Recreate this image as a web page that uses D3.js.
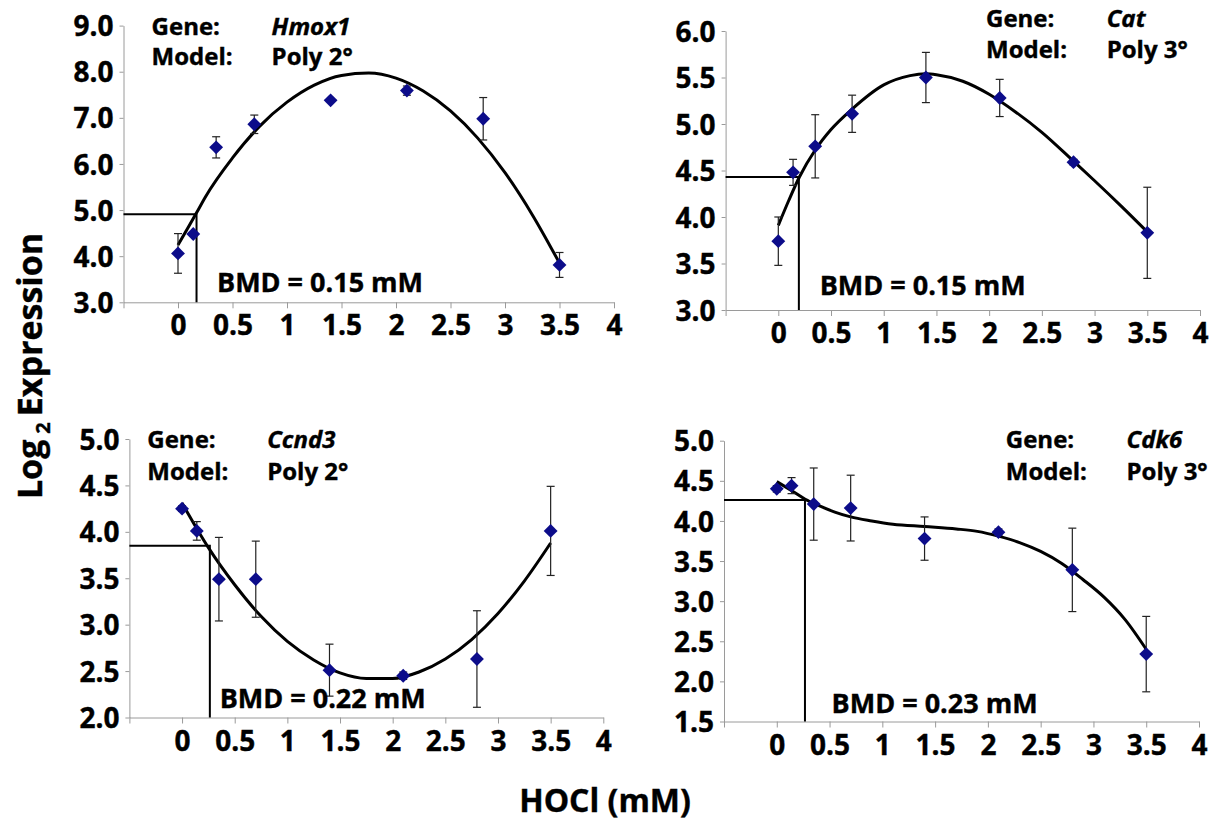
<!DOCTYPE html>
<html>
<head>
<meta charset="utf-8">
<script src="https://cdn.jsdelivr.net/npm/d3@7"></script>
<style>
  body { margin: 0; background: #fff; }
  svg text { font-family: "Open Sans", sans-serif; font-weight: 700; fill: #000; stroke: #000; stroke-width: 0.4px; }
</style>
</head>
<body>
<script>
// HOCl doses (mM) used for every gene
var doses = [0, 0.14, 0.35, 0.7, 1.4, 2.1, 2.8, 3.5];
var xTicks = [-0.5, 0, 0.5, 1, 1.5, 2, 2.5, 3, 3.5, 4];

var genes = ["Hmox1", "Cat", "Ccnd3", "Cdk6"];
var models = ["Poly 2°", "Poly 3°", "Poly 2°", "Poly 3°"];
var bmdLabels = ["0.15", "0.15", "0.22", "0.23"];

// measured log2 expression (mean and error)
var hmox1Mean = [4.06, 4.48, 6.36, 6.86, 7.38, 7.59, 6.98, 3.81];
var hmox1Err  = [0.43, 0.04, 0.23, 0.20, 0.03, 0.10, 0.46, 0.27];
var catMean   = [3.74, 4.48, 4.76, 5.11, 5.50, 5.28, 4.59, 3.83];
var catErr    = [0.26, 0.14, 0.34, 0.20, 0.27, 0.20, 0.03, 0.49];
var ccnd3Mean = [4.25, 4.01, 3.49, 3.49, 2.51, 2.45, 2.63, 4.01];
var ccnd3Err  = [0.03, 0.10, 0.45, 0.41, 0.28, 0.04, 0.52, 0.48];
var cdk6Mean  = [4.40, 4.44, 4.21, 4.16, 3.78, 3.86, 3.39, 2.34];
var cdk6Err   = [0.04, 0.10, 0.45, 0.41, 0.27, 0.04, 0.52, 0.47];

// fitted model curves
var hmox1FitX = [0, 0.17, 0.25, 0.5, 0.75, 1, 1.25, 1.5, 1.75, 2, 2.25, 2.5, 2.75, 3, 3.25, 3.5];
var hmox1FitY = [4.24, 4.94, 5.28, 6.13, 6.82, 7.34, 7.71, 7.92, 7.97, 7.86, 7.58, 7.15, 6.56, 5.81, 4.90, 3.85];
var catFitX = [0, 0.1, 0.2, 0.35, 0.5, 0.7, 1, 1.25, 1.4, 1.5, 1.75, 2, 2.25, 2.5, 2.8, 3, 3.25, 3.5];
var catFitY = [3.91, 4.18, 4.43, 4.72, 4.94, 5.16, 5.42, 5.52, 5.54, 5.53, 5.46, 5.32, 5.13, 4.91, 4.60, 4.39, 4.12, 3.84];
var ccnd3FitX = [0, 0.25, 0.5, 0.75, 1, 1.25, 1.5, 1.75, 2, 2.25, 2.5, 2.75, 3, 3.25, 3.5];
var ccnd3FitY = [4.31, 3.83, 3.43, 3.09, 2.82, 2.62, 2.48, 2.42, 2.42, 2.49, 2.63, 2.84, 3.12, 3.47, 3.88];
var cdk6FitX = [0, 0.15, 0.27, 0.4, 0.55, 0.7, 0.9, 1.1, 1.4, 1.7, 1.9, 2.1, 2.3, 2.5, 2.7, 2.9, 3.1, 3.3, 3.5];
var cdk6FitY = [4.49, 4.37, 4.27, 4.19, 4.11, 4.05, 4.00, 3.96, 3.93, 3.90, 3.87, 3.81, 3.73, 3.62, 3.47, 3.27, 3.05, 2.77, 2.40];

// benchmark dose guide lines (x, response)
var bmdX = [0.17, 0.195, 0.264, 0.267];
var bmdY = [4.91, 4.43, 3.85, 4.26];

// y ticks per panel
var hmox1Ticks = [3, 4, 5, 6, 7, 8, 9];
var catTicks   = [3, 3.5, 4, 4.5, 5, 5.5, 6];
var ccnd3Ticks = [2, 2.5, 3, 3.5, 4, 4.5, 5];
var cdk6Ticks  = [1.5, 2, 2.5, 3, 3.5, 4, 4.5, 5];

var means = [hmox1Mean, catMean, ccnd3Mean, cdk6Mean];
var errs = [hmox1Err, catErr, ccnd3Err, cdk6Err];
var fitX = [hmox1FitX, catFitX, ccnd3FitX, cdk6FitX];
var fitY = [hmox1FitY, catFitY, ccnd3FitY, cdk6FitY];
var yTicks = [hmox1Ticks, catTicks, ccnd3Ticks, cdk6Ticks];

// panel placement on the page
var layout = [
  {left: 123.5, right: 614, top: 25.6, bottom: 302.3, gx: 151.6, gy: 35, vx: 271.6, gap: 30, bx: 217, by: 291.7},
  {left: 725.6, right: 1200, top: 31, bottom: 310, gx: 986, gy: 26.7, vx: 1106.7, gap: 31.6, bx: 819.7, by: 295},
  {left: 129.4, right: 603.3, top: 439, bottom: 717.5, gx: 147.3, gy: 448.3, vx: 267.2, gap: 31.7, bx: 219.7, by: 708.3},
  {left: 724, right: 1199, top: 440.7, bottom: 721.5, gx: 1005.8, gy: 448.3, vx: 1126.5, gap: 31.7, bx: 831.6, by: 713.3}
];

var svg = d3.select("body").append("svg")
  .attr("width", 1214)
  .attr("height", 823);

var axisColor = "#9a9a9a";
var pointColor = "#0c0c8a";

layout.forEach(function(L, i) {
  var x = d3.scaleLinear().domain([-0.5, 4]).range([L.left, L.right]);
  var yt = yTicks[i];
  var y = d3.scaleLinear().domain([yt[0], yt[yt.length - 1]]).range([L.bottom, L.top]);

  var g = svg.append("g").attr("class", "panel");

  // x axis
  var xa = g.append("g")
    .attr("transform", "translate(0," + L.bottom + ")")
    .call(d3.axisBottom(x).tickValues(xTicks).tickSize(6).tickSizeOuter(0)
      .tickFormat(function(d) { return d < 0 ? "" : d3.format("")(d); }));
  xa.select(".domain").attr("stroke", axisColor);
  xa.selectAll(".tick line").attr("stroke", axisColor);
  xa.selectAll(".tick text").attr("y", 33).attr("dy", null)
    .style("font-size", "28px");

  // y axis
  var ya = g.append("g")
    .attr("transform", "translate(" + L.left + ",0)")
    .call(d3.axisLeft(y).tickValues(yt).tickSize(4).tickSizeOuter(0).tickPadding(6)
      .tickFormat(d3.format(".1f")));
  ya.select(".domain").attr("stroke", axisColor);
  ya.selectAll(".tick line").attr("stroke", axisColor);
  ya.selectAll(".tick text").style("font-size", "28px").attr("dy", "0.36em");

  // BMD guide lines
  g.append("path")
    .attr("d", "M" + L.left + "," + y(bmdY[i]) + "H" + x(bmdX[i]) + "V" + L.bottom)
    .attr("fill", "none")
    .attr("stroke", "#000")
    .attr("stroke-width", 2);

  // fitted curve
  var fit = fitX[i].map(function(v, k) { return [v, fitY[i][k]]; });
  g.append("path")
    .datum(fit)
    .attr("fill", "none")
    .attr("stroke", "#000")
    .attr("stroke-width", 3)
    .attr("d", d3.line()
      .x(function(d) { return x(d[0]); })
      .y(function(d) { return y(d[1]); })
      .curve(d3.curveMonotoneX));

  var pts = doses.map(function(v, k) { return {x: v, m: means[i][k], e: errs[i][k]}; });

  // error bars
  var eb = g.append("g").selectAll("g").data(pts).enter().append("g")
    .attr("stroke", "#222").attr("stroke-width", 1.2);
  eb.append("line")
    .attr("x1", function(d) { return x(d.x); })
    .attr("x2", function(d) { return x(d.x); })
    .attr("y1", function(d) { return y(d.m + d.e); })
    .attr("y2", function(d) { return y(d.m - d.e); });
  eb.append("line")
    .attr("x1", function(d) { return x(d.x) - 4; })
    .attr("x2", function(d) { return x(d.x) + 4; })
    .attr("y1", function(d) { return y(d.m + d.e); })
    .attr("y2", function(d) { return y(d.m + d.e); });
  eb.append("line")
    .attr("x1", function(d) { return x(d.x) - 4; })
    .attr("x2", function(d) { return x(d.x) + 4; })
    .attr("y1", function(d) { return y(d.m - d.e); })
    .attr("y2", function(d) { return y(d.m - d.e); });

  // diamonds
  g.append("g").selectAll("path").data(pts).enter().append("path")
    .attr("d", d3.symbol().type(d3.symbolSquare).size(96))
    .attr("transform", function(d) { return "translate(" + x(d.x) + "," + y(d.m) + ") rotate(45)"; })
    .attr("fill", pointColor);

  // gene / model labels
  g.append("text").attr("x", L.gx).attr("y", L.gy).style("font-size", "24px").text("Gene:");
  g.append("text").attr("x", L.vx).attr("y", L.gy).style("font-size", "24px")
    .style("font-style", "italic").text(genes[i]);
  g.append("text").attr("x", L.gx).attr("y", L.gy + L.gap).style("font-size", "24px").text("Model:");
  g.append("text").attr("x", L.vx).attr("y", L.gy + L.gap).style("font-size", "24px").text(models[i]);

  g.append("text").attr("x", L.bx).attr("y", L.by).style("font-size", "27px")
    .text("BMD = " + bmdLabels[i] + " mM");
});

// axis titles
var yl = svg.append("text")
  .attr("transform", "translate(42,366) rotate(-90)")
  .attr("text-anchor", "middle")
  .style("font-size", "34px");
yl.append("tspan").text("Log");
yl.append("tspan").attr("dy", 8).attr("dx", 6).style("font-size", "20px").text("2");
yl.append("tspan").attr("dy", -8).attr("dx", 6).text("Expression");

svg.append("text")
  .attr("x", 605)
  .attr("y", 812)
  .attr("text-anchor", "middle")
  .style("font-size", "32px")
  .text("HOCl (mM)");
</script>
</body>
</html>
